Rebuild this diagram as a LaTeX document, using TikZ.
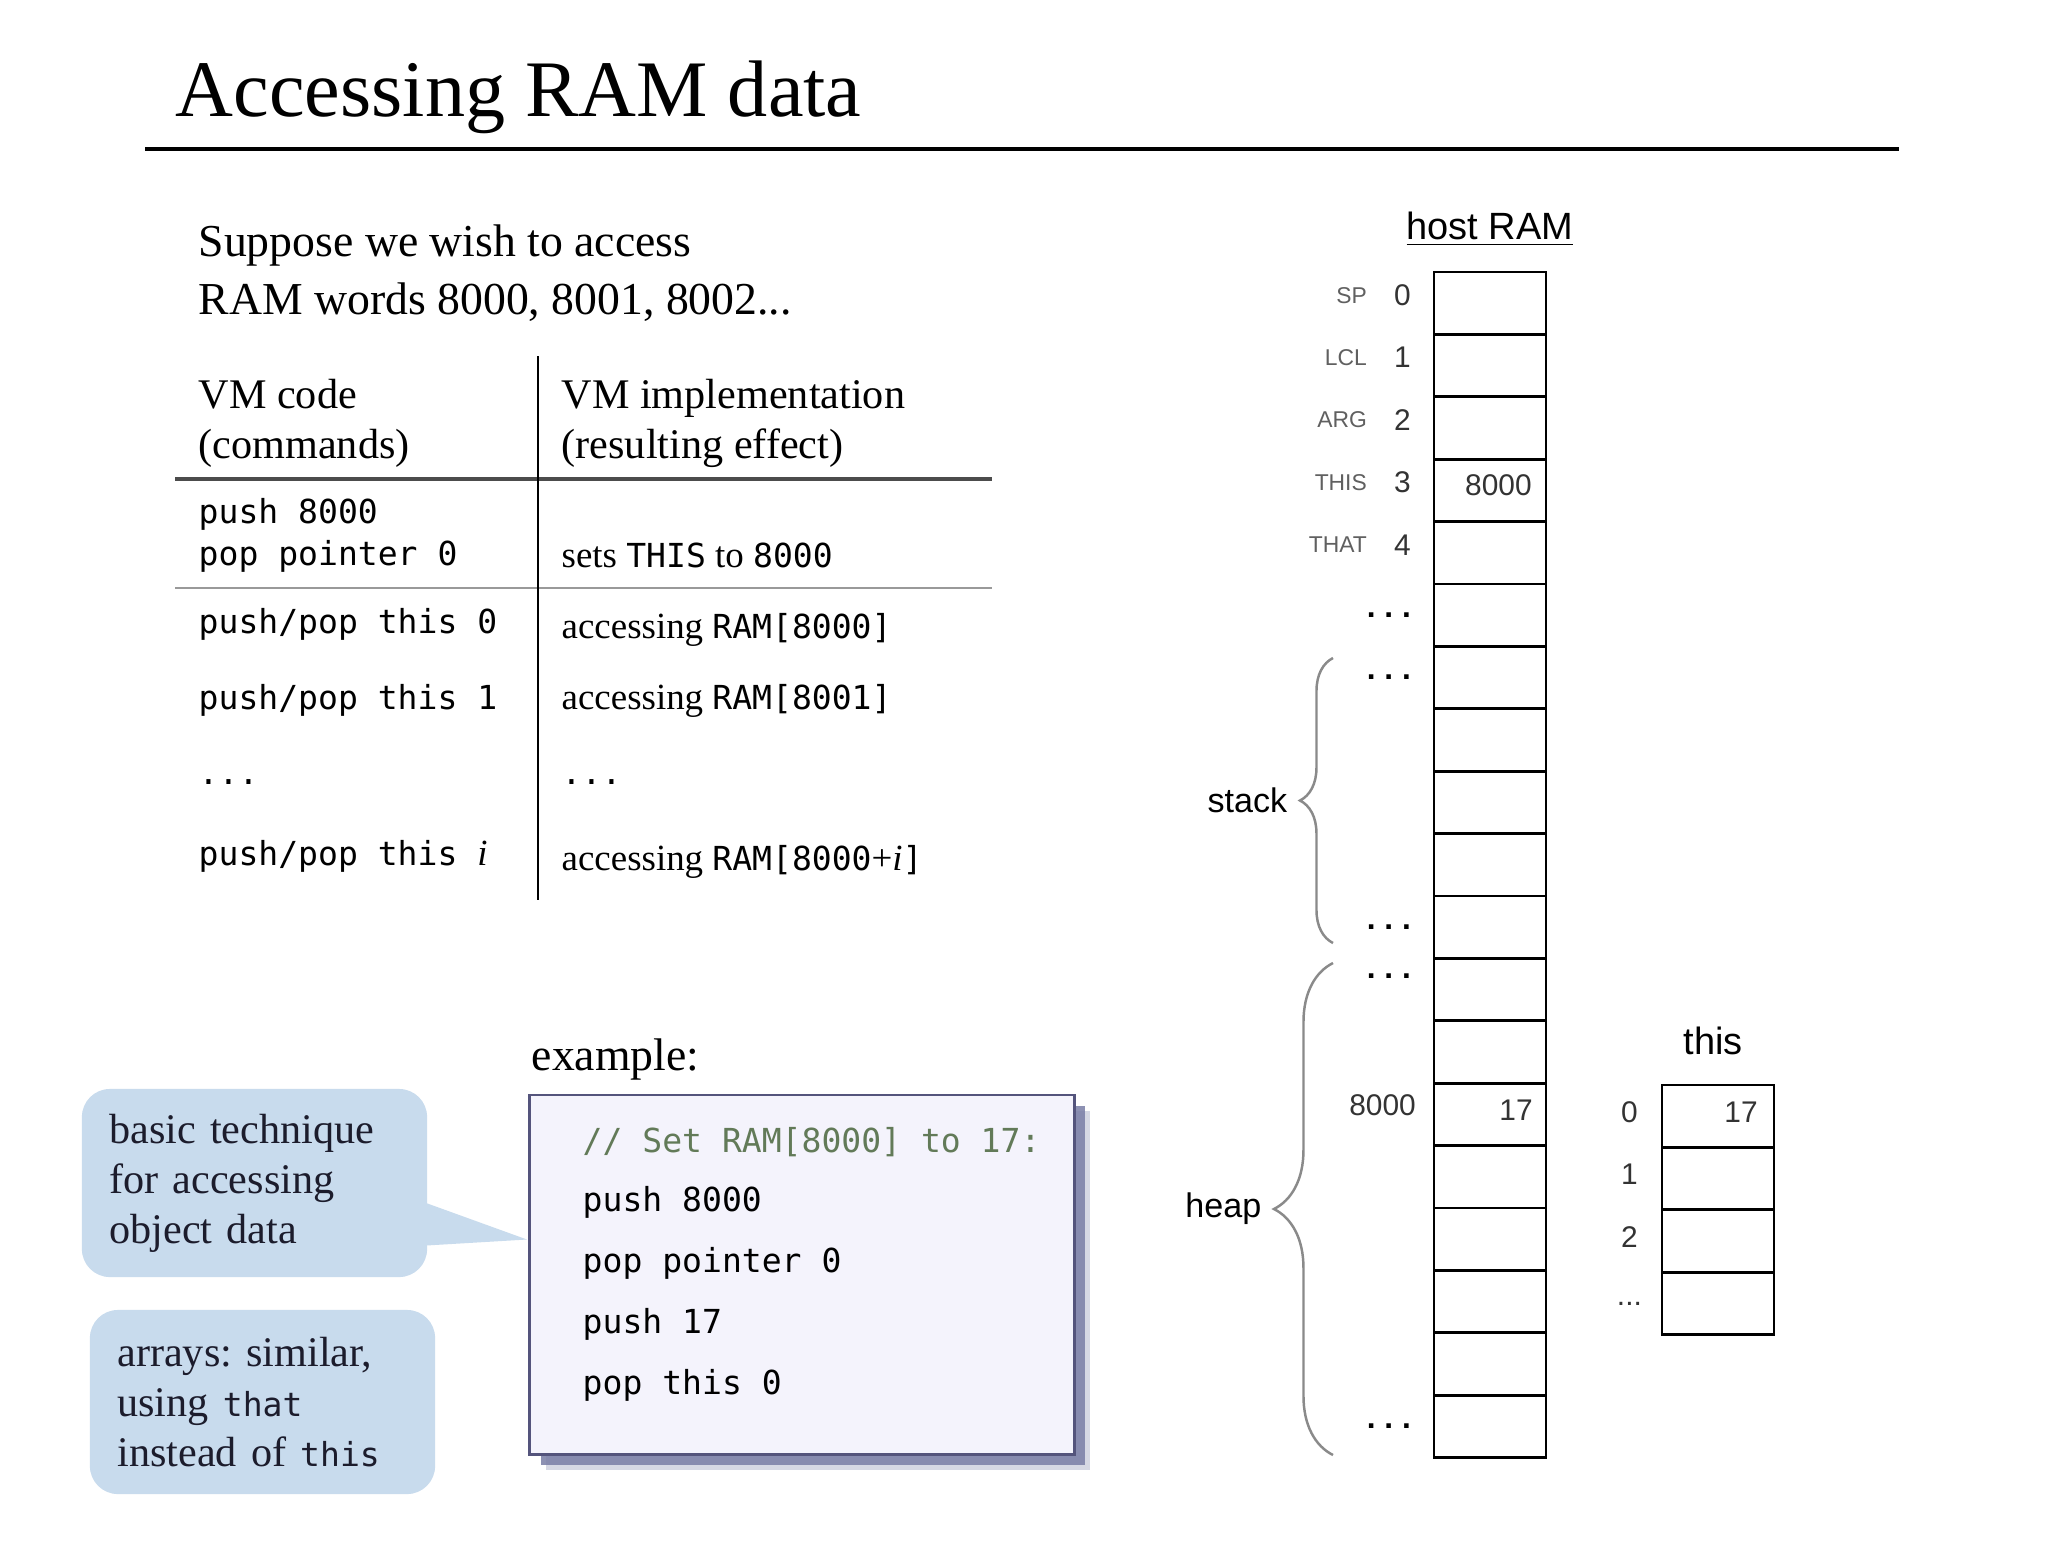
\documentclass[tikz,border=0pt]{standalone}
\usepackage{fontspec}
\setmainfont{Liberation Serif}
\setsansfont{Liberation Sans}
\setmonofont{DejaVu Sans Mono}
\usepackage{xcolor}
\usetikzlibrary{positioning,calc,decorations.pathreplacing,shadows}

\definecolor{notefill}{HTML}{C8DBED}
\definecolor{notetext}{HTML}{1C1C2C}
\definecolor{boxfill}{HTML}{F4F3FC}
\definecolor{boxline}{HTML}{54547C}
\definecolor{boxshade}{HTML}{7A7EA6}
\definecolor{commentc}{HTML}{627A58}
\definecolor{bracec}{HTML}{8A8A8A}
\definecolor{regc}{HTML}{606060}

\newcommand\monotxt[1]{{\ttfamily\fontsize{9.4}{11}\selectfont #1}}
\frenchspacing

\begin{document}
\begin{tikzpicture}[x=0.01cm,y=-0.01cm,
  headline/.style={font=\fontsize{22.8}{26}\selectfont,inner sep=0pt},
  body/.style={font=\fontsize{13}{16}\selectfont,inner sep=0pt},
  head/.style={font=\fontsize{12}{14.8}\selectfont,inner sep=0pt},
  rowtxt/.style={font=\fontsize{10.5}{12}\selectfont,inner sep=0pt},
  code/.style={font=\ttfamily\fontsize{9.4}{11}\selectfont,inner sep=0pt},
  note/.style={fill=notefill,rounded corners=0.28cm,text=notetext,align=left,
               font=\fontsize{12}{14.2}\selectfont,text width=2.9cm,inner xsep=0.27cm,
               minimum width=3.45cm},
  codebox/.style={draw=boxline,fill=boxfill,line width=0.8pt,
                  general shadow={shadow xshift=0.16cm,shadow yshift=-0.16cm,fill=boxshade,opacity=0.3},
                  drop shadow={shadow xshift=0.11cm,shadow yshift=-0.11cm,fill=boxshade,opacity=0.85}},
  ramcell/.style={draw,line width=0.8pt,minimum width=1.12cm,minimum height=0.624cm,inner sep=0pt},
  lbl/.style={font=\sffamily\fontsize{10.8}{13}\selectfont,inner sep=0pt},
  sidelbl/.style={font=\sffamily\fontsize{9.7}{12}\selectfont,inner sep=0pt},
  idx/.style={font=\sffamily\fontsize{8.5}{10}\selectfont,text=black!80,inner sep=0pt},
  reg/.style={font=\sffamily\fontsize{6.5}{8}\selectfont,text=regc,inner sep=0pt},
  dotrow/.style={font=\sffamily\bfseries\fontsize{9}{10}\selectfont,inner sep=0pt},
  brc/.style={draw=bracec,line width=0.7pt,decorate,decoration={brace,amplitude=#1}}]
\fill[white] (0,0) rectangle (2068,1562);
\useasboundingbox (0,0) rectangle (2068,1562);

\node[headline,anchor=base west] (ttl) at (175,116) {Accessing RAM data};
\draw[line width=1.2pt] (145,149) -- (1899,149);

\node[body,anchor=base west] (intro1) at (198,256) {Suppose we wish to access};
\node[body,anchor=base west] (intro2) at (198,314) {RAM words 8000, 8001, 8002...};

\node[head,anchor=base west] (hd1)  at (198,408) {VM code};
\node[head,anchor=base west] (hd1b) at (198,458) {(commands)};
\node[head,anchor=base west] (hd2)  at (561,408) {VM implementation};
\node[head,anchor=base west] (hd2b) at (561,458) {(resulting effect)};
\draw[line width=1.1pt,draw=black!70] (175,479) -- (992,479);
\draw[line width=0.6pt,draw=black!40] (175,588) -- (992,588);
\draw[line width=0.7pt] (538,356) -- (538,900);

\node[code,anchor=base west] (c1) at (198,523) {push 8000};
\node[code,anchor=base west] (c2) at (198,565) {pop pointer 0};
\node[code,anchor=base west] (c3) at (198,633) {push/pop this 0};
\node[code,anchor=base west] (c4) at (198,709) {push/pop this 1};
\node[code,anchor=base west] (c5) at (198,784) {...};
\node[code,anchor=base west] (c6) at (198,865) {push/pop this {\rmfamily\itshape\fontsize{10.5}{12}\selectfont i}};
\node[rowtxt,anchor=base west] (e1) at (561,567) {sets \monotxt{THIS} to \monotxt{8000}};
\node[rowtxt,anchor=base west] (e2) at (561,638) {accessing \monotxt{RAM[8000]}};
\node[rowtxt,anchor=base west] (e3) at (561,709) {accessing \monotxt{RAM[8001]}};
\node[rowtxt,anchor=base west] (e4) at (561,784) {\monotxt{...}};
\node[rowtxt,anchor=base west] (e5) at (561,870) {accessing \monotxt{RAM[8000}+\textit{i}\monotxt{]}};

\node[body,anchor=base west] (exlbl) at (531,1070) {example:};
\node[codebox,minimum width=5.44cm,minimum height=3.59cm] (ex) at (802,1274.5) {};
\node[code,text=commentc,anchor=base west] (cmt) at (582,1152) {// Set RAM[8000] to 17:};
\foreach \t [count=\k] in {push 8000,pop pointer 0,push 17,pop this 0}
  \node[code,anchor=base west] (ln\k) at (582,{1150+61*\k}) {\t};

\node[note,minimum height=1.88cm] (note1) at (254.5,1183) {basic technique\\for accessing\\object data};
\fill[notefill] ([shift={(-10,17)}]note1.east) -- ($(ex.west)+(-1.5,-35)$) -- ([shift={(-10,63)}]note1.east) -- cycle;
\node[note,minimum height=1.84cm] (note2) at (262.5,1402) {arrays: similar,\\using \monotxt{that}\\instead of \monotxt{this}};

\node[lbl] (host) at (1490,229) {\underline{host RAM}};
\foreach \i in {0,...,18}
  \node[ramcell] (ram\i) at (1490,{303.2+62.4*\i}) {};
\foreach \r/\n in {SP/0,LCL/1,ARG/2,THIS/3,THAT/4}{
  \node[idx,left=0.21cm of ram\n,yshift=0.08cm] (num\n) {\n};
  \node[reg,left=0.65cm of ram\n,yshift=0.08cm] (reg\n) {\r};
}
\foreach \i in {5,6,10,18}
  \node[dotrow,left=0.21cm of ram\i] (dot\i) {. . .};
\node[dotrow,left=0.21cm of ram11,yshift=0.13cm] (dot11) {. . .};
\node[idx,anchor=east] (v3) at ([shift={(-15,-5)}]ram3.east) {8000};
\node[idx,anchor=east] (v13) at ([shift={(-14,-4)}]ram13.east) {17};
\node[idx,left=0.16cm of ram13,yshift=0.09cm] (adr) {8000};

\coordinate (stk-top) at (1333,658);
\coordinate (stk-bot) at (1333,943);
\coordinate (hp-top) at (1333,963);
\coordinate (hp-bot) at (1333,1455);
\draw[brc=0.33cm] (stk-bot) -- (stk-top);
\draw[brc=0.59cm] (hp-bot) -- (hp-top);
\node[sidelbl,anchor=east] (stk) at (1288,800) {stack};
\node[sidelbl,anchor=east] (hp) at (1262,1209) {heap};

\foreach \i in {0,...,3}
  \node[ramcell] (this\i) at (1718,{1116.2+62.4*\i}) {};
\foreach \i in {0,1,2}
  \node[idx,left=0.22cm of this\i,yshift=0.04cm] (ti\i) {\i};
\node[idx,left=0.18cm of this3] (ti3) {...};
\node[idx,anchor=east] (t17) at ([shift={(-17,-4)}]this0.east) {17};
\node[lbl,above=0.28cm of this0,xshift=-0.05cm] (thislbl) {this};
\end{tikzpicture}
\end{document}
